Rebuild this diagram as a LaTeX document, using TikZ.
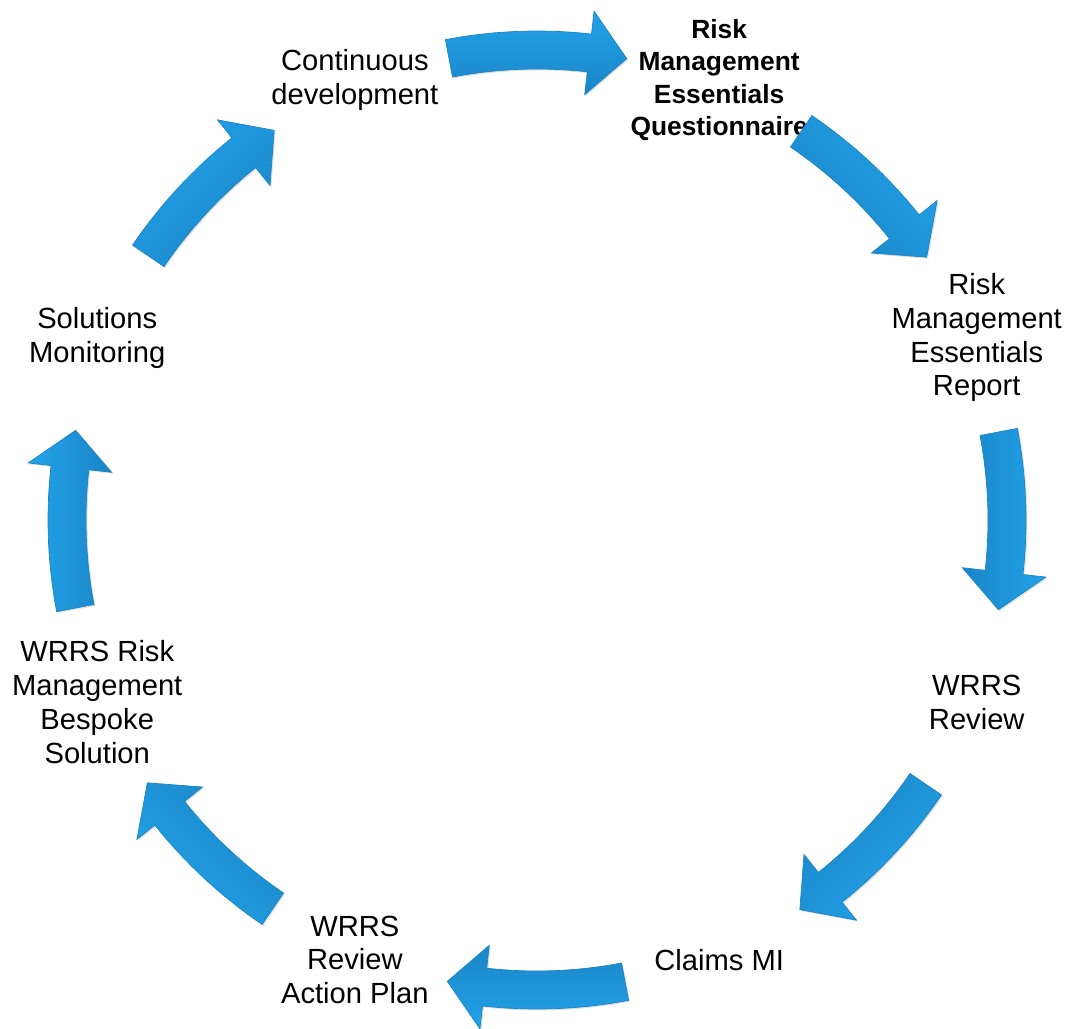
\documentclass[tikz,border=0pt]{standalone}
\usepackage{fontspec}
\setmainfont{Liberation Sans}
\usetikzlibrary{shadows}
\definecolor{cycblue}{HTML}{22A3EA}
\definecolor{cyclight}{HTML}{45BDF8}
\definecolor{cycdark}{HTML}{1A85C6}

\begin{document}
\begin{tikzpicture}[x=0.02cm, y=0.02cm,
    stage/.style={align=center, inner sep=0pt, font=\fontsize{16.6}{19.2}\selectfont},
    start/.style={align=center, inner sep=0pt, font=\fontsize{15}{18.5}\selectfont\bfseries},
    cyclearrow/.style={draw=cycdark, line width=0.4pt, top color=cycblue, middle color=cyclight, bottom color=cycdark,
        drop shadow={opacity=0.25, shadow xshift=0.8pt, shadow yshift=-0.8pt}}
]
    \useasboundingbox (-537,-508) rectangle (533,520);

    % Nodes
    \node[start] (rmeq) at (67.5:476) {Risk\\Management\\Essentials\\Questionnaire};
    \node[stage] (rmer) at (22.5:476) {Risk\\Management\\Essentials\\Report};
    \node[stage] (review) at (-22.5:476) {WRRS\\Review};
    \node[stage] (claims) at (-67.5:476) {Claims MI};
    \node[stage] (plan) at (-112.5:476) {WRRS\\Review\\Action Plan};
    \node[stage] (bespoke) at (-157.5:476) {WRRS Risk\\Management\\Bespoke\\Solution};
    \node[stage] (monitor) at (157.5:476) {Solutions\\Monitoring};
    \node[stage] (develop) at (112.5:476) {Continuous\\development};

    % Arrows
    \foreach \a [evaluate=\a as \sa using \a-90] in {90,45,0,-45,-90,-135,180,135}
        \path[cyclearrow, shading angle=\sa]
            (\a+10.8:489) arc[start angle=\a+10.8, end angle=\a-6.4, radius=489]
            -- (\a-6.4:512) -- (\a-11:470) -- (\a-6.4:428) -- (\a-6.4:451)
            arc[start angle=\a-6.4, end angle=\a+10.8, radius=451] -- cycle;
\end{tikzpicture}
\end{document}
